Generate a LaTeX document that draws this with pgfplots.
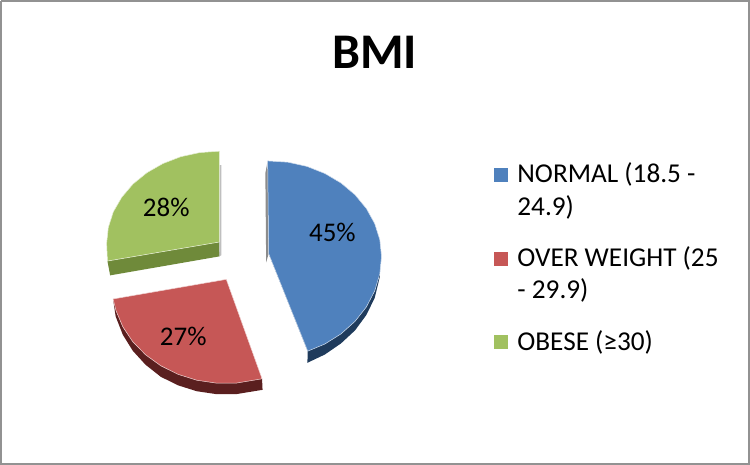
\documentclass[border=0pt]{standalone}
\usepackage{pgfplots}
\usepackage{pgfplotstable}
\usepackage{fontspec}
\setmainfont{Carlito}
\pgfplotsset{compat=1.18}

\definecolor{frame}{HTML}{929292}
\definecolor{bluetop}{HTML}{4F81BD}
\definecolor{blueside}{HTML}{1F3B5C}
\definecolor{redtop}{HTML}{C65756}
\definecolor{redside}{HTML}{5A1F1F}
\definecolor{greentop}{HTML}{A1C160}
\definecolor{greenside}{HTML}{6F8A3A}

% outlines, in image pixels
\pgfplotstableread{
x y
267.3 160.7
287.6 162.0
306.6 166.2
324.5 173.3
340.6 182.8
354.6 194.6
365.9 208.3
374.2 223.3
379.3 239.4
381.0 256.0
379.3 273.5
374.2 290.5
365.9 306.5
354.6 320.9
340.6 333.4
324.5 343.5
307.3 350.7
268.3 253.3
267.3 160.7
}\bluetop
\pgfplotstableread{
x y
268.3 253.3
307.3 350.7
307.0 362.3
324.5 354.0
340.6 342.9
354.6 329.9
365.9 314.5
374.2 297.5
379.3 276.5
379.3 273.5
268.3 253.3
}\blueside
\pgfplotstableread{
x y
265.0 173.0
267.3 160.7
268.3 253.3
265.8 262.0
265.0 173.0
}\blueedge
\pgfplotstableread{
x y
226.0 279.0
112.9 298.6
115.9 310.4
122.7 326.4
132.6 341.3
145.4 354.3
160.6 365.3
177.8 373.8
196.5 379.7
216.1 382.6
235.9 382.6
261.7 378.3
226.0 279.0
}\redtop
\pgfplotstableread{
x y
112.9 298.6
115.5 316.0
122.7 334.4
132.6 350.3
145.4 364.3
160.6 376.3
177.8 384.8
196.5 390.7
216.1 393.6
235.9 393.6
262.2 389.3
261.7 378.3
112.9 298.6
}\redside
\pgfplotstableread{
x y
219.0 151.0
199.4 152.4
180.5 156.5
162.8 163.3
146.7 172.5
132.8 183.8
121.6 197.0
113.2 211.5
108.2 227.0
106.5 243.0
107.3 260.7
219.0 241.7
219.0 151.0
}\greentop
\pgfplotstableread{
x y
219.0 241.7
219.3 256.0
110.0 275.0
107.3 260.7
219.0 241.7
}\greenside
\pgfplotstableread{
x y
219.0 165.0
221.0 165.0
221.0 255.0
219.0 256.0
219.0 165.0
}\greenedge
\pgfplotstableread{
x y
1 1
748 1
748 463
1 463
1 1
}\chartframe

\begin{document}
\begin{tikzpicture}
\begin{axis}[
  scale only axis,
  width=750bp, height=465bp,
  xmin=0, xmax=750, ymin=0, ymax=465,
  y dir=reverse,
  hide axis,
]
\addplot[draw=frame, line width=2bp] table {\chartframe};

\addplot[draw=none, fill=blueside] table {\blueside};
\addplot[draw=none, fill=black!45] table {\blueedge};
\addplot[draw=none, fill=redside] table {\redside};
\addplot[draw=none, fill=greenside] table {\greenside};
\addplot[draw=none, fill=black!25] table {\greenedge};
\addplot[draw=white!75!bluetop, line width=0.5bp, fill=bluetop] table {\bluetop};
\addplot[draw=white!75!redtop, line width=0.5bp, fill=redtop] table {\redtop};
\addplot[draw=white!75!greentop, line width=0.5bp, fill=greentop] table {\greentop};

\node[font=\fontsize{27}{32}\selectfont] at (axis cs:332,232) {45\%};
\node[font=\fontsize{27}{32}\selectfont] at (axis cs:183,336) {27\%};
\node[font=\fontsize{27}{32}\selectfont] at (axis cs:166,207) {28\%};
\node[font=\bfseries\fontsize{50}{56}\selectfont] at (axis cs:374,52) {BMI};

% legend keys and wrapped entries
\addplot[only marks, mark=square*, mark size=6.5bp, draw=bluetop, fill=bluetop, mark options={draw=bluetop, fill=bluetop, line width=0pt}] coordinates {(500.8,174.5)};
\addplot[only marks, mark=square*, mark size=6.5bp, draw=redtop, fill=redtop, mark options={draw=redtop, fill=redtop, line width=0pt}] coordinates {(500.8,258.5)};
\addplot[only marks, mark=square*, mark size=6.5bp, draw=greentop, fill=greentop, mark options={draw=greentop, fill=greentop, line width=0pt}] coordinates {(500.8,341.5)};
\begin{scope}[every node/.style={anchor=base west, inner sep=0pt, font=\fontsize{27.3}{32}\selectfont}]
\node at (axis cs:516.5,182) {NORMAL (18.5 -};
\node at (axis cs:516.5,215.5) {24.9)};
\node at (axis cs:516.5,266.5) {OVER WEIGHT (25};
\node at (axis cs:516.5,298.5) {- 29.9)};
\node at (axis cs:516.5,350) {OBESE (≥30)};
\end{scope}
\end{axis}
\end{tikzpicture}
\end{document}
